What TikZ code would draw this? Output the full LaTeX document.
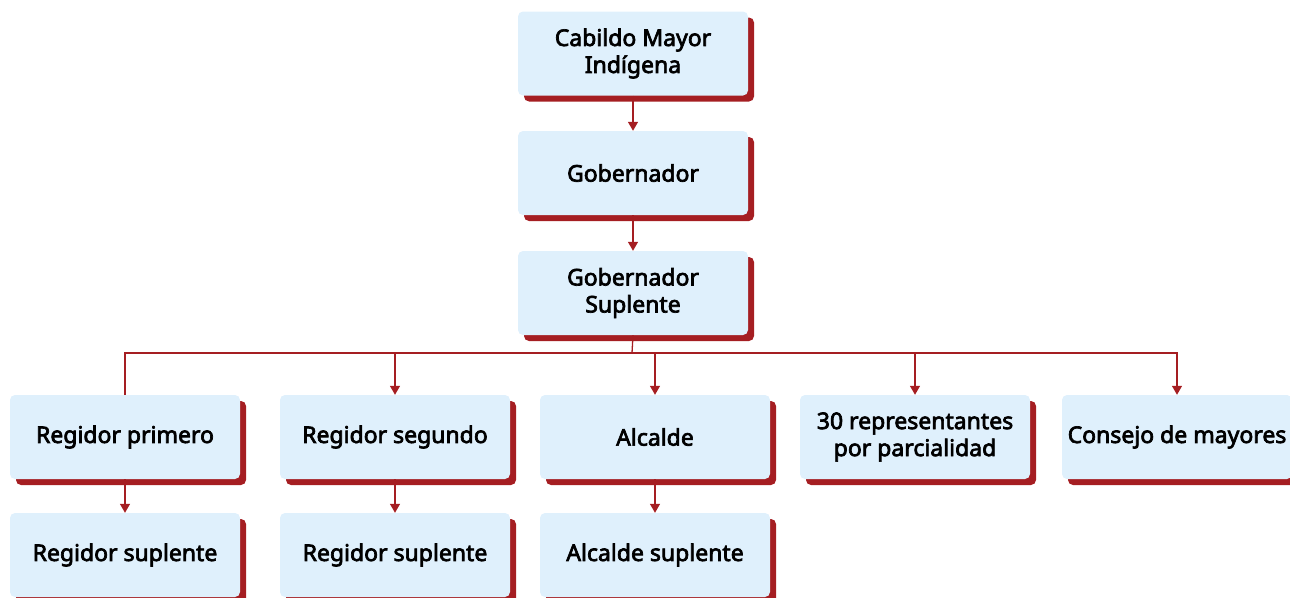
\documentclass[tikz,border=0pt]{standalone}
\usepackage{fontspec}
\setmainfont{Noto Sans}[AutoFakeBold=3]
\usepackage{xcolor}
\usetikzlibrary{arrows.meta,shadows}
\definecolor{boxblue}{HTML}{DFF0FC}
\definecolor{linered}{HTML}{A51E22}
\begin{document}
\begin{tikzpicture}[x=1pt,y=-1pt,
        orgbox/.style={rectangle,rounded corners=5pt,fill=boxblue,minimum width=230pt,minimum height=84pt,inner sep=0pt,align=center,
            font=\fontsize{23}{27}\selectfont\bfseries,
            drop shadow={shadow xshift=6pt,shadow yshift=-6pt,fill=linered,opacity=1}},
        link/.style={draw=linered,line width=1.3pt},
        arrlink/.style={link,-{Triangle[width=10pt,length=9pt]}}]
        \useasboundingbox (0,0) rectangle (1290,597);
        \node[orgbox] (cabildo) at (633,53.5) {Cabildo Mayor\\Indígena};
        \node[orgbox] (gob) at (633,173) {Gobernador};
        \node[orgbox] (gobsup) at (633,293) {Gobernador\\Suplente};
        \node[orgbox] (reg1) at (125,437) {Regidor primero};
        \node[orgbox] (reg2) at (395,437) {Regidor segundo};
        \node[orgbox] (alc) at (655,437) {Alcalde};
        \node[orgbox] (rep) at (915,437) {30 representantes\\por parcialidad};
        \node[orgbox] (cons) at (1177,437) {Consejo de mayores};
        \node[orgbox] (reg1s) at (125,555) {Regidor suplente};
        \node[orgbox] (reg2s) at (395,555) {Regidor suplente};
        \node[orgbox] (alcs) at (655,555) {Alcalde suplente};
        \coordinate (bus) at (632,353);
        \draw[arrlink] (cabildo.south) -- (gob.north);
        \draw[arrlink] (gob.south) -- (gobsup.north);
        \draw[link] (gobsup.south) -- (bus);
        \draw[link] (bus) -| (reg1.north);
        \draw[arrlink] (bus) -| (reg2.north);
        \draw[arrlink] (bus) -| (alc.north);
        \draw[arrlink] (bus) -| (rep.north);
        \draw[arrlink] (bus) -| (cons.north);
        \draw[arrlink] (reg1.south) -- (reg1s.north);
        \draw[arrlink] (reg2.south) -- (reg2s.north);
        \draw[arrlink] (alc.south) -- (alcs.north);
\end{tikzpicture}
\end{document}
